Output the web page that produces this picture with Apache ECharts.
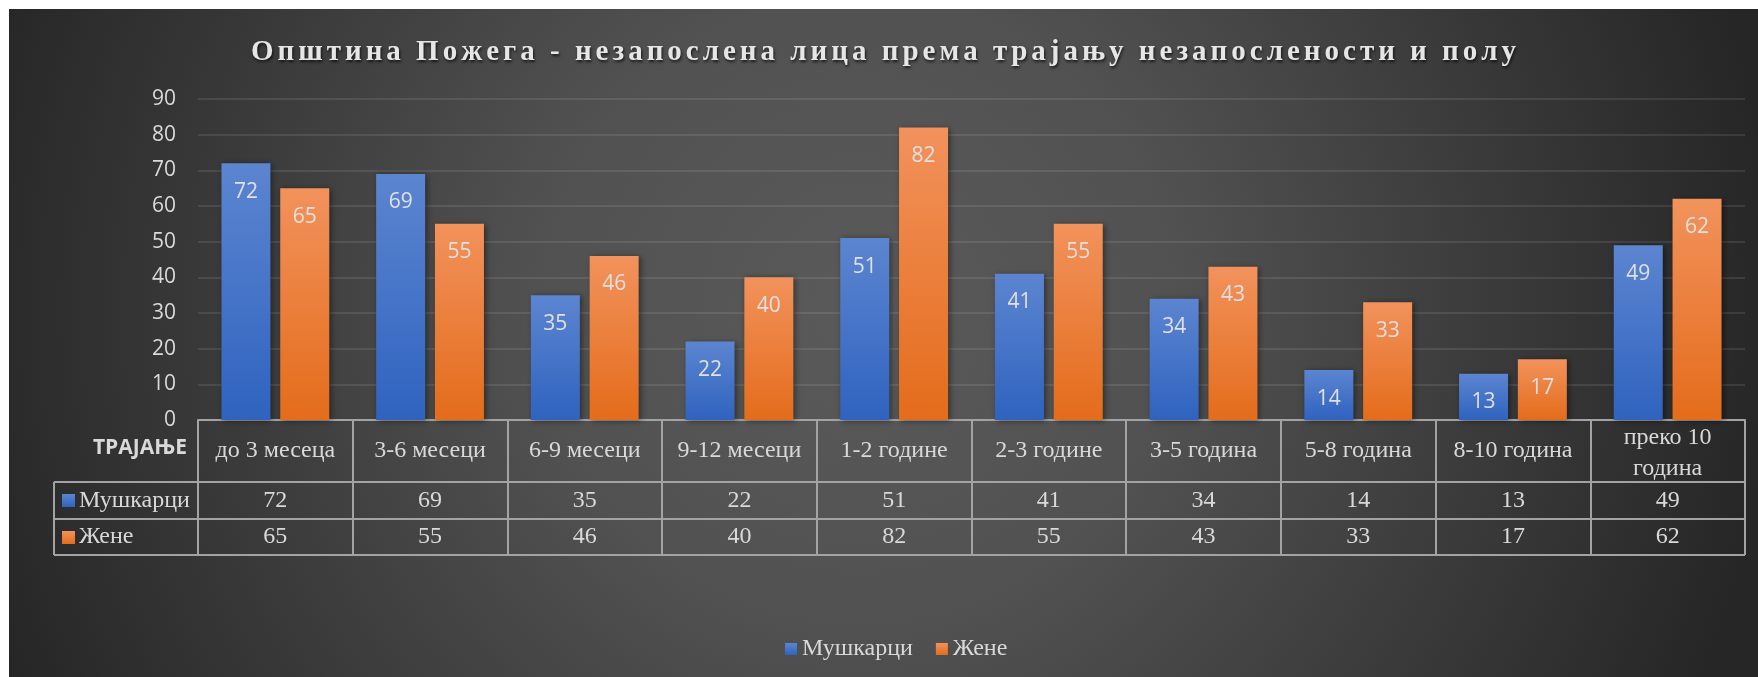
<!DOCTYPE html>
<html>
<head>
<meta charset="utf-8">
<script src="https://cdn.jsdelivr.net/npm/echarts@6/dist/echarts.min.js"></script>
<style>
  body { margin: 0; background: #fff; }
  #chart { position: absolute; left: 9px; top: 9px; width: 1749px; height: 668px; }
</style>
</head>
<body>
<div id="chart"></div>
<script>
var titleText = 'Општина Пожега - незапослена лица према трајању незапослености и полу';
var categories = ['до 3 месеца', '3-6 месеци', '6-9 месеци', '9-12 месеци', '1-2 године',
    '2-3 године', '3-5 година', '5-8 година', '8-10 година', 'преко 10 година'];
var seriesNames = ['Мушкарци', 'Жене'];
var men = [72, 69, 35, 22, 51, 41, 34, 14, 13, 49];
var women = [65, 55, 46, 40, 82, 55, 43, 33, 17, 62];
var yMin = 0, yMax = 90, yStep = 10;
var headLabel = 'ТРАЈАЊЕ';

var textColor = '#d9d9d9';
var lineColor = '#a3a3a3';
var serif = '"Liberation Serif", "Times New Roman", serif';

function grad(top, bottom) {
    return new echarts.graphic.LinearGradient(0, 0, 0, 1, [
        { offset: 0, color: top },
        { offset: 1, color: bottom }
    ]);
}
var blue = grad('#5c85d0', '#2f63bf');
var orange = grad('#f2925c', '#e46c1b');

// title with spaced letters (each char its own rich token)
var titleRich = titleText.split('').map(function (c) { return '{t|' + c + '}'; }).join('');

var myChart = echarts.init(document.getElementById('chart'));

var option = {
    backgroundColor: new echarts.graphic.RadialGradient(850, 300, 920, [
        { offset: 0, color: '#5a5a5a' },
        { offset: 0.35, color: '#515151' },
        { offset: 1, color: '#262626' }
    ], true),
    title: {
        text: titleRich,
        left: 'center',
        top: 26,
        padding: [0, 0, 0, 18],
        textStyle: {
            rich: {
                t: {
                    fontFamily: serif,
                    fontWeight: 'bold',
                    fontSize: 29,
                    lineHeight: 36,
                    color: '#e6e6e6',
                    padding: [0, 2, 0, 2],
                    textShadowColor: 'rgba(0,0,0,0.7)',
                    textShadowBlur: 3,
                    textShadowOffsetX: 1,
                    textShadowOffsetY: 2
                }
            }
        }
    },
    legend: {
        data: seriesNames,
        left: 771,
        top: 623,
        icon: 'rect',
        itemWidth: 12,
        itemHeight: 12,
        itemGap: 23,
        textStyle: { color: textColor, fontFamily: serif, fontSize: 24 }
    },
    grid: { left: 189, right: 13, top: 90, bottom: 257 },
    xAxis: {
        type: 'category',
        data: categories,
        axisLine: { lineStyle: { color: lineColor, width: 2 } },
        axisTick: { show: true, interval: 0, length: 135, lineStyle: { color: lineColor, width: 2 } },
        axisLabel: {
            interval: 0,
            margin: 0,
            formatter: function (value, idx) {
                var head;
                if (value.length > 12) {
                    var k = value.lastIndexOf(' ');
                    head = '{h1|' + value.slice(0, k) + '}\n{h2|' + value.slice(k + 1) + '}';
                } else {
                    head = '{h|' + value + '}';
                }
                return head + '\n{v|' + men[idx] + '}\n{w|' + women[idx] + '}';
            },
            rich: {
                h: { fontFamily: serif, fontSize: 24, color: textColor, lineHeight: 62 },
                h1: { fontFamily: serif, fontSize: 24, color: textColor, lineHeight: 36 },
                h2: { fontFamily: serif, fontSize: 24, color: textColor, lineHeight: 26 },
                v: { fontFamily: serif, fontSize: 24, color: textColor, lineHeight: 37 },
                w: { fontFamily: serif, fontSize: 24, color: textColor, lineHeight: 36 }
            }
        }
    },
    yAxis: {
        type: 'value',
        min: yMin,
        max: yMax,
        interval: yStep,
        axisLine: { show: false },
        axisTick: { show: false },
        axisLabel: { color: textColor, fontFamily: '"Open Sans", sans-serif', fontSize: 21, margin: 22 },
        splitLine: { lineStyle: { color: 'rgba(255,255,255,0.13)', width: 1.5 } }
    },
    series: [
        {
            name: seriesNames[0],
            type: 'bar',
            data: men,
            barWidth: 49,
            barGap: '20%',
            itemStyle: { color: blue, shadowColor: 'rgba(0,0,0,0.45)', shadowBlur: 6, shadowOffsetX: 2, shadowOffsetY: 1 },
            label: { show: true, position: 'insideTop', distance: 18, color: '#e0e0e0', fontSize: 21, fontFamily: '"Open Sans", sans-serif' }
        },
        {
            name: seriesNames[1],
            type: 'bar',
            data: women,
            barWidth: 49,
            itemStyle: { color: orange, shadowColor: 'rgba(0,0,0,0.45)', shadowBlur: 6, shadowOffsetX: 2, shadowOffsetY: 1 },
            label: { show: true, position: 'insideTop', distance: 18, color: '#e0e0e0', fontSize: 21, fontFamily: '"Open Sans", sans-serif' }
        }
    ],
    graphic: [
        // data table: horizontal rules and left key column
        { type: 'line', shape: { x1: 45, y1: 473, x2: 1736, y2: 473 }, style: { stroke: lineColor, lineWidth: 2 } },
        { type: 'line', shape: { x1: 45, y1: 510, x2: 1736, y2: 510 }, style: { stroke: lineColor, lineWidth: 2 } },
        { type: 'line', shape: { x1: 45, y1: 546, x2: 1736, y2: 546 }, style: { stroke: lineColor, lineWidth: 2 } },
        { type: 'line', shape: { x1: 45, y1: 473, x2: 45, y2: 546 }, style: { stroke: lineColor, lineWidth: 2 } },
        { type: 'rect', shape: { x: 53, y: 485, width: 13, height: 13 }, style: { fill: blue } },
        { type: 'rect', shape: { x: 53, y: 522, width: 13, height: 13 }, style: { fill: orange } },
        { type: 'text', x: 70, y: 492, style: { text: seriesNames[0], fill: textColor, font: '24px ' + serif, verticalAlign: 'middle' } },
        { type: 'text', x: 70, y: 528, style: { text: seriesNames[1], fill: textColor, font: '24px ' + serif, verticalAlign: 'middle' } },
        { type: 'text', x: 178, y: 439, style: { text: headLabel, fill: textColor, font: 'bold 21px "Open Sans", sans-serif', align: 'right', verticalAlign: 'middle' } }
    ]
};

myChart.setOption(option);
</script>
</body>
</html>
